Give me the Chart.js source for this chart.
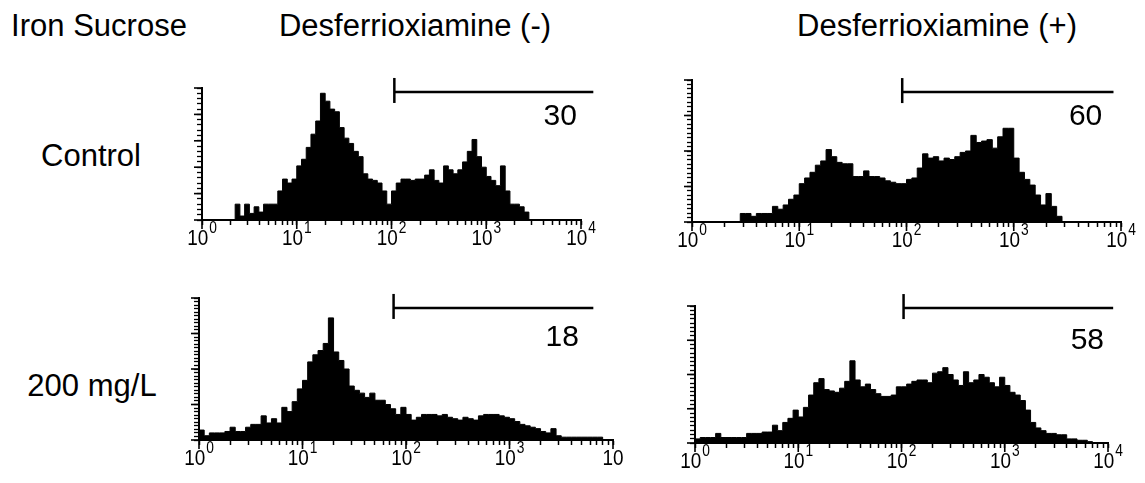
<!DOCTYPE html>
<html>
<head>
<meta charset="utf-8">
<script src="https://cdn.jsdelivr.net/npm/chart.js@4.4.0/dist/chart.umd.min.js"></script>
<style>
  body { margin: 0; background: #fff; width: 1145px; height: 483px; position: relative; overflow: hidden;
         font-family: "Liberation Sans", Arial, sans-serif; }
  .lbl { position: absolute; font-size: 31px; line-height: 1; color: #000; white-space: nowrap;
         transform: translate(-50%, -50%); }
  canvas { position: absolute; }
</style>
</head>
<body>

<div class="lbl" style="left:99px; top:25px;">Iron Sucrose</div>
<div class="lbl" style="left:415px; top:25px;">Desferrioxiamine (-)</div>
<div class="lbl" style="left:937px; top:25px;">Desferrioxiamine (+)</div>
<div class="lbl" style="left:91px; top:155px;">Control</div>
<div class="lbl" style="left:92px; top:385px;">200 mg/L</div>

<script>
// ---- histogram data: counts per channel bin (bin = 0.05 log10 units, 10^0 .. 10^4) ----
const BIN_WIDTH = 0.05;
const DECADES = [0, 1, 2, 3, 4];
const MINOR_STEPS = [2, 3, 4, 5, 6, 7, 8, 9];

const ctrlMinus = [
  0, 0, 0, 0, 0, 0, 0, 0,
  12, 3, 12, 5, 10, 6, 12, 12,
  12, 22, 31, 28, 31, 41, 46, 55,
  65, 75, 96, 90, 84, 82, 70, 62,
  58, 52, 48, 35, 31, 30, 28, 22,
  12, 22, 28, 31, 31, 30, 31, 31,
  34, 38, 30, 28, 41, 38, 35, 38,
  44, 52, 61, 48, 40, 33, 30, 26,
  41, 22, 12, 12, 10, 6, 0, 0,
  0, 0, 0, 0, 0, 0, 0, 0
];
const ctrlPlus = [
  0, 0, 0, 0, 0, 0, 0, 0, 0, 0,
  6, 6, 4, 6, 6, 6, 11, 9,
  12, 16, 19, 27, 31, 35, 40, 43,
  51, 46, 42, 41, 41, 32, 32, 36,
  32, 32, 31, 29, 28, 27, 27, 30,
  31, 38, 48, 45, 46, 43, 45, 44,
  46, 49, 50, 61, 56, 57, 58, 52,
  60, 66, 66, 45, 35, 30, 26, 19,
  12, 20, 11, 4, 0, 0, 0, 0,
  0, 0, 0, 0, 0, 0
];
const ironMinus = [
  9, 7, 3, 5, 5, 5, 6, 9, 6, 6,
  9, 11, 11, 17, 12, 15, 12, 23, 20, 27,
  36, 42, 55, 60, 63, 68, 86, 62, 56, 50,
  38, 35, 33, 30, 33, 28, 28, 25, 22, 18,
  23, 18, 14, 16, 18, 18, 18, 17, 18, 16,
  15, 14, 16, 15, 14, 17, 18, 18, 18, 17,
  16, 15, 13, 11, 10, 9, 8, 6, 5, 8,
  3, 2, 2, 2, 2, 2, 2, 2, 2, 0
];
const ironPlus = [
  2, 3, 4, 4, 4, 7, 4, 4, 4, 4, 4,
  7, 7, 7, 8, 8, 13, 9, 15, 18, 24,
  19, 26, 35, 44, 47, 39, 38, 37, 40, 45,
  60, 46, 41, 43, 39, 36, 34, 34, 35, 41,
  41, 43, 45, 46, 46, 44, 51, 52, 55, 50,
  46, 42, 52, 44, 46, 50, 48, 44, 41, 48,
  42, 37, 35, 31, 24, 15, 11, 9, 7, 7,
  6, 6, 3, 3, 2, 2, 1, 0, 0
];

const percents = ['30', '60', '18', '58'];
const gateStart = [2.03, 1.96, 1.88, 2.02];   // gate marker start (log10 units)
const supLabels = [
  ['0', '1', '2', '3', '4'],
  ['0', '1', '2', '3', '4'],
  ['0', '1', '2', '3', ''],
  ['0', '1', '2', '3', '4']
];
const series = [ctrlMinus, ctrlPlus, ironMinus, ironPlus];

// ---- page layout of each panel (pixels) ----
const PANELS = [
  { x0: 202, x1: 581,  yTop: 88,  yBase: 220, gateEnd: 4.13, gateY: 97,   pctX: 3.78, pctY: 78, yMinor: 4,     yMajor: 20 },
  { x0: 692, x1: 1121, yTop: 80,  yBase: 222, gateEnd: 3.93, gateY: 91.5, pctX: 3.67, pctY: 74, yMinor: 3.125, yMajor: 25 },
  { x0: 199, x1: 613,  yTop: 298, yBase: 440, gateEnd: 3.81, gateY: 93,   pctX: 3.51, pctY: 72, yMinor: 2.5,   yMajor: 25 },
  { x0: 695, x1: 1108, yTop: 306, yBase: 443, gateEnd: 4.05, gateY: 98.5, pctX: 3.80, pctY: 75, yMinor: 3.125, yMajor: 25 }
];
const PAD = { l: 20, r: 40, t: 24, b: 34 };
const Y_AXIS_W = 10;
const X_AXIS_H = 10;
const FONT = '"Liberation Sans", Arial, sans-serif';

// log-decade tick positions: majors at 10^n, minors at k*10^n
const xTicks = [];
DECADES.forEach(d => {
  xTicks.push(d);
  if (d < 4) MINOR_STEPS.forEach(k => xTicks.push(d + Math.log10(k)));
});

function line(ctx, ax, ay, bx, by) {
  ctx.beginPath();
  ctx.moveTo(ax, ay);
  ctx.lineTo(bx, by);
  ctx.stroke();
}

PANELS.forEach((p, idx) => {
  const canvas = document.createElement('canvas');
  const w = PAD.l + Y_AXIS_W + (p.x1 - p.x0) + PAD.r;
  const h = PAD.t + (p.yBase - p.yTop) + X_AXIS_H + PAD.b;
  canvas.width = w;
  canvas.height = h;
  canvas.style.width = w + 'px';
  canvas.style.height = h + 'px';
  canvas.style.left = (p.x0 - PAD.l - Y_AXIS_W) + 'px';
  canvas.style.top = (p.yTop - PAD.t) + 'px';
  document.body.appendChild(canvas);

  const counts = series[idx];
  const points = counts.map((v, i) => ({ x: i * BIN_WIDTH, y: v }));
  points.push({ x: counts.length * BIN_WIDTH, y: counts[counts.length - 1] });

  const yTicks = [];
  for (let v = 0; v <= 100.001; v += p.yMinor) yTicks.push(v);

  // draws decade labels, longer major ticks, gate marker and percentage
  const decor = {
    id: 'decor' + idx,
    afterDraw(chart) {
      const { ctx, scales: { x, y } } = chart;
      const base = y.getPixelForValue(0);
      ctx.save();
      ctx.strokeStyle = '#000';
      ctx.fillStyle = '#000';

      ctx.lineWidth = 1.6;
      DECADES.forEach(d => {
        const px = x.getPixelForValue(d);
        line(ctx, px, base, px, base + 9);
      });
      for (let v = 0; v <= 100.001; v += p.yMajor) {
        const py = y.getPixelForValue(v);
        line(ctx, x.left - 8, py, x.left, py);
      }

      // "10" drawn slightly condensed like the original labels
      const SQ = 0.86;
      ctx.textBaseline = 'alphabetic';
      ctx.textAlign = 'left';
      DECADES.forEach((d, k) => {
        const px = x.getPixelForValue(d);
        const sup = supLabels[idx][k];
        ctx.font = '22px ' + FONT;
        const w1 = ctx.measureText('10').width * SQ;
        ctx.font = '16px ' + FONT;
        const w2 = sup ? ctx.measureText(sup).width * SQ + 1 : 0;
        const start = px - (w1 + w2) / 2;
        ctx.save();
        ctx.translate(start, base + 25);
        ctx.scale(SQ, 1);
        ctx.font = '22px ' + FONT;
        ctx.fillText('10', 0, 0);
        ctx.restore();
        if (sup) {
          ctx.save();
          ctx.translate(start + w1 + 1, base + 13);
          ctx.scale(SQ, 1);
          ctx.font = '16px ' + FONT;
          ctx.fillText(sup, 0, 0);
          ctx.restore();
        }
      });

      const gy = y.getPixelForValue(p.gateY);
      const gx0 = x.getPixelForValue(gateStart[idx]);
      const gx1 = x.getPixelForValue(p.gateEnd);
      ctx.lineWidth = 2.5;
      line(ctx, gx0, gy, gx1, gy);
      line(ctx, gx0, gy - 14, gx0, gy + 11);

      ctx.font = '30px ' + FONT;
      ctx.textAlign = 'center';
      ctx.textBaseline = 'middle';
      ctx.fillText(percents[idx], x.getPixelForValue(p.pctX), y.getPixelForValue(p.pctY));
      ctx.restore();
    }
  };

  new Chart(canvas.getContext('2d'), {
    type: 'line',
    data: {
      datasets: [{
        data: points,
        stepped: 'after',
        fill: 'origin',
        backgroundColor: '#000',
        borderColor: '#000',
        borderWidth: 1,
        pointRadius: 0
      }]
    },
    options: {
      responsive: false,
      animation: false,
      devicePixelRatio: 1,
      layout: { padding: { left: PAD.l, right: PAD.r, top: PAD.t, bottom: PAD.b } },
      plugins: { legend: { display: false }, tooltip: { enabled: false } },
      scales: {
        x: {
          type: 'linear',
          min: 0,
          max: 4,
          afterBuildTicks: s => { s.ticks = xTicks.map(v => ({ value: v })); },
          afterFit: s => { s.height = X_AXIS_H; },
          ticks: { display: false },
          grid: { drawOnChartArea: false, tickLength: 5, tickColor: '#000', tickWidth: 1.5 },
          border: { color: '#000', width: 2 }
        },
        y: {
          type: 'linear',
          min: 0,
          max: 100,
          afterBuildTicks: s => { s.ticks = yTicks.map(v => ({ value: v })); },
          afterFit: s => { s.width = Y_AXIS_W; },
          ticks: { display: false },
          grid: { drawOnChartArea: false, tickLength: 5, tickColor: '#000', tickWidth: 1.3 },
          border: { color: '#000', width: 2 }
        }
      }
    },
    plugins: [decor]
  });
});
</script>
</body>
</html>
